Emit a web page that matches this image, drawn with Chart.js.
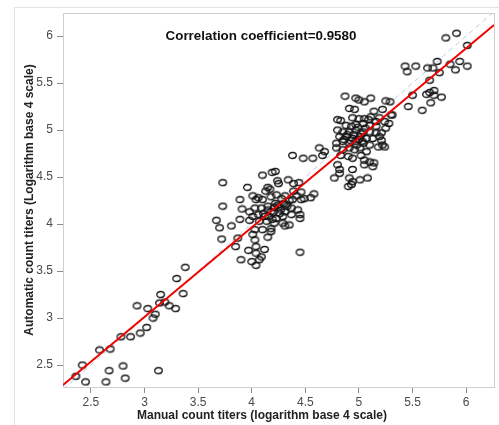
<!DOCTYPE html>
<html>
<head>
<meta charset="utf-8">
<script src="https://cdn.jsdelivr.net/npm/chart.js@4.4.0/dist/chart.umd.min.js"></script>
<style>
  html, body { margin: 0; padding: 0; background: #fff; }
  #wrap { position: relative; width: 499px; height: 425px; overflow: hidden; }
  #frame { position: absolute; left: 14px; top: 7px; width: 600px; height: 600px; border: 1px solid #e2e2e2; }
  #chart { position: absolute; left: 0; top: 0; }
</style>
</head>
<body>
<div id="wrap">
  <div id="frame"></div>
  <canvas id="chart" width="499" height="425" style="width:499px;height:425px"></canvas>
</div>
<script>
// Valeurs (log base 4)
const manualX = [
  // groupe bas
  3.38, 3.30, 3.36, 3.15, 3.14, 3.19, 3.23, 3.29, 2.93, 3.03, 3.10, 3.08, 3.02, 2.96, 2.78, 2.87, 2.58, 2.68, 2.42, 2.36, 2.45, 2.64, 2.67, 2.80, 2.82, 3.13,
  // groupe milieu
  3.73, 3.96, 4.10, 4.19, 4.22, 4.24, 4.25, 4.34, 4.39, 4.44, 4.46, 4.77, 3.89, 4.01, 4.04, 4.13, 4.15, 4.17, 4.06, 4.10,
  4.23, 4.28, 4.31, 4.39, 4.42, 4.38, 4.46, 4.49, 4.58, 4.55, 4.18, 3.73, 3.91, 3.98, 4.03, 4.09, 4.15, 4.21, 4.24, 4.32,
  4.37, 4.43, 4.31, 4.26, 4.18, 4.11, 4.06, 4.01, 4.16, 4.23, 4.29, 4.37, 4.45, 4.45, 3.67, 3.70, 3.81, 3.89, 3.98, 4.07,
  4.14, 4.21, 4.29, 4.31, 4.35, 4.18, 4.03, 4.10, 4.01, 3.72, 3.87, 4.03, 4.15, 4.18, 3.85, 4.04, 4.12, 3.97, 4.04, 4.09,
  3.90, 4.00, 4.04, 4.07, 4.45, 4.15, 4.20, 4.25, 4.12, 4.30, 4.22, 4.19, 4.35, 4.27, 4.33,
  // groupe haut
  4.87, 4.97, 5.00, 5.05, 5.11, 5.25, 5.29, 4.91, 4.96, 5.14, 5.22, 5.11, 5.09, 5.05, 5.00, 4.94, 4.83, 5.19, 5.30, 5.16,
  4.88, 4.93, 4.97, 5.04, 5.10, 5.16, 5.24, 5.28, 4.80, 4.85, 4.91, 4.97, 5.04, 5.10, 5.16, 5.21, 5.25, 4.82, 4.88, 4.94,
  5.01, 5.07, 5.13, 5.19, 4.79, 4.85, 4.91, 4.97, 5.04, 5.10, 5.18, 5.24, 5.21, 4.63, 4.68, 4.57, 4.66, 4.79, 4.85, 4.91,
  4.96, 5.01, 5.07, 4.83, 4.90, 4.94, 5.02, 5.05, 5.10, 4.80, 4.82, 4.82, 4.94, 5.05, 5.13, 5.14, 4.91, 4.94, 5.01, 5.08,
  4.93, 4.90, 4.38, 4.48, 4.80, 5.22, 4.95, 5.00, 4.92, 4.98, 5.02, 4.89, 5.06, 4.86, 4.99, 5.03,
  // groupe sommet
  5.81, 5.91, 6.01, 5.43, 5.45, 5.53, 5.64, 5.69, 5.73, 5.75, 5.85, 5.90, 5.94, 6.01, 5.66, 5.50, 5.63, 5.66, 5.70, 5.70,
  5.77, 5.67, 5.46, 5.59, 5.31
];
const autoY = [
  3.54, 3.42, 3.26, 3.25, 3.16, 3.17, 3.13, 3.10, 3.13, 3.10, 3.04, 3.00, 2.90, 2.84, 2.80, 2.80, 2.66, 2.67, 2.50, 2.38, 2.32, 2.32, 2.44, 2.49, 2.36, 2.44,
  4.44, 4.39, 4.52, 4.55, 4.56, 4.46, 4.43, 4.47, 4.43, 4.44, 4.34, 4.49, 4.26, 4.30, 4.26, 4.35, 4.39, 4.37, 4.28, 4.26,
  4.31, 4.27, 4.30, 4.35, 4.30, 4.26, 4.26, 4.27, 4.32, 4.28, 4.29, 4.19, 4.16, 4.13, 4.17, 4.17, 4.19, 4.18, 4.20, 4.21,
  4.17, 4.15, 4.13, 4.11, 4.13, 4.11, 4.10, 4.08, 4.08, 4.06, 4.08, 4.10, 4.10, 4.06, 4.04, 3.96, 3.98, 4.05, 4.04, 4.03,
  4.03, 4.01, 4.01, 3.98, 3.99, 3.95, 3.94, 3.94, 3.89, 3.84, 3.85, 3.83, 3.86, 3.92, 3.76, 3.76, 3.73, 3.72, 3.69, 3.65,
  3.62, 3.60, 3.56, 3.62, 3.70, 4.15, 4.12, 4.18, 4.08, 4.22, 4.22, 4.05, 4.25, 4.15, 4.19,
  5.36, 5.34, 5.32, 5.30, 5.34, 5.31, 5.30, 5.23, 5.22, 5.20, 5.22, 5.14, 5.11, 5.12, 5.12, 5.13, 5.10, 5.13, 5.16, 5.09,
  5.05, 5.04, 5.06, 5.07, 5.05, 5.04, 5.09, 5.07, 5.00, 4.98, 4.98, 5.00, 4.98, 4.98, 4.97, 4.97, 5.02, 4.93, 4.93, 4.91,
  4.93, 4.91, 4.91, 4.93, 4.86, 4.88, 4.86, 4.88, 4.86, 4.84, 4.82, 4.82, 4.89, 4.81, 4.77, 4.70, 4.73, 4.81, 4.79, 4.81,
  4.79, 4.81, 4.77, 4.73, 4.72, 4.70, 4.73, 4.68, 4.66, 4.63, 4.58, 4.54, 4.58, 4.63, 4.61, 4.65, 4.49, 4.45, 4.47, 4.49,
  4.42, 4.40, 4.73, 4.70, 5.11, 4.84, 4.95, 4.90, 4.89, 4.84, 4.96, 4.95, 5.02, 4.90, 5.03, 4.88,
  5.98, 6.03, 5.90, 5.68, 5.62, 5.68, 5.66, 5.66, 5.73, 5.61, 5.70, 5.64, 5.73, 5.68, 5.53, 5.37, 5.38, 5.40, 5.42, 5.37,
  5.35, 5.29, 5.25, 5.21, 5.16
];

// Droite de régression et droite y = x (extrémités)
const fitX = [2.24, 6.26];
const fitY = [2.287, 6.117];
const identX = [2.24, 6.26];
const identY = [2.24, 6.26];

const xTicks = [2.5, 3, 3.5, 4, 4.5, 5, 5.5, 6];
const yTicks = [2.5, 3, 3.5, 4, 4.5, 5, 5.5, 6];

const corrText = 'Correlation coefficient=0.9580';
const xTitle = 'Manual count titers (logarithm base 4 scale)';
const yTitle = 'Automatic count titers (Logarithm base 4 scale)';

const FONT = '"Liberation Sans", Arial, sans-serif';

// Marqueur en ellipse (les cercles de l'image sont un peu aplatis)
function makeMarker() {
    const c = document.createElement('canvas');
    c.width = 11;
    c.height = 9;
    const g = c.getContext('2d');
    g.strokeStyle = '#151515';
    g.lineWidth = 1.3;
    g.beginPath();
    g.ellipse(5.5, 4.5, 3.8, 3.0, 0, 0, Math.PI * 2);
    g.stroke();
    return c;
}

const toPoints = (xs, ys) => xs.map((x, i) => ({ x: x, y: ys[i] }));

// Cadre de la zone de tracé + textes
const decorPlugin = {
    id: 'decor',
    beforeDatasetsDraw(chart) {
        const { ctx, chartArea: a } = chart;
        ctx.save();
        ctx.strokeStyle = '#cfcfcf';
        ctx.lineWidth = 1;
        ctx.strokeRect(a.left + 0.5, a.top + 0.5, a.right - a.left, a.bottom - a.top);
        ctx.restore();
    },
    afterDraw(chart) {
        const ctx = chart.ctx;
        ctx.save();
        ctx.fillStyle = '#111';
        ctx.textAlign = 'center';
        ctx.textBaseline = 'middle';
        ctx.font = 'bold 13.4px ' + FONT;
        ctx.fillText(corrText, 261, 36);
        ctx.fillStyle = '#222';
        ctx.font = 'bold 12px ' + FONT;
        ctx.fillText(xTitle, 262, 416);
        ctx.restore();
    }
};

new Chart(document.getElementById('chart').getContext('2d'), {
    type: 'scatter',
    data: {
        datasets: [
            {
                label: 'fit',
                data: toPoints(fitX, fitY),
                showLine: true,
                borderColor: '#f20000',
                borderWidth: 2,
                pointRadius: 0,
                order: 0
            },
            {
                label: 'titers',
                data: toPoints(manualX, autoY),
                pointStyle: makeMarker(),
                order: 1
            },
            {
                label: 'identity',
                data: toPoints(identX, identY),
                showLine: true,
                borderColor: 'rgba(160, 185, 215, 0.75)',
                borderWidth: 1,
                borderDash: [5, 4],
                pointRadius: 0,
                order: 2
            }
        ]
    },
    options: {
        responsive: false,
        animation: false,
        devicePixelRatio: 1,
        layout: { padding: { top: 13, right: 4, left: 0, bottom: 0 } },
        plugins: {
            legend: { display: false },
            tooltip: { enabled: false }
        },
        scales: {
            x: {
                type: 'linear',
                min: 2.24,
                max: 6.26,
                afterBuildTicks: s => { s.ticks = xTicks.map(v => ({ value: v })); },
                afterFit: s => { s.height = 38; },
                grid: { drawOnChartArea: false, drawTicks: true, tickLength: 6, color: '#8a8a8a' },
                border: { color: '#cfcfcf' },
                ticks: { padding: 2, color: '#4a4a4a', font: { size: 12, family: FONT }, callback: v => String(v) }
            },
            y: {
                type: 'linear',
                min: 2.266,
                max: 6.245,
                afterBuildTicks: s => { s.ticks = yTicks.map(v => ({ value: v })); },
                afterFit: s => { s.width = 63; },
                grid: { drawOnChartArea: false, drawTicks: true, tickLength: 6, color: '#8a8a8a' },
                border: { color: '#cfcfcf' },
                ticks: { padding: 4, color: '#4a4a4a', font: { size: 12, family: FONT }, callback: v => String(v) },
                title: {
                    display: true,
                    text: yTitle,
                    color: '#222',
                    font: { size: 12, weight: 'bold', family: FONT },
                    padding: { top: 22, bottom: 0 }
                }
            }
        }
    },
    plugins: [decorPlugin]
});
</script>
</body>
</html>
